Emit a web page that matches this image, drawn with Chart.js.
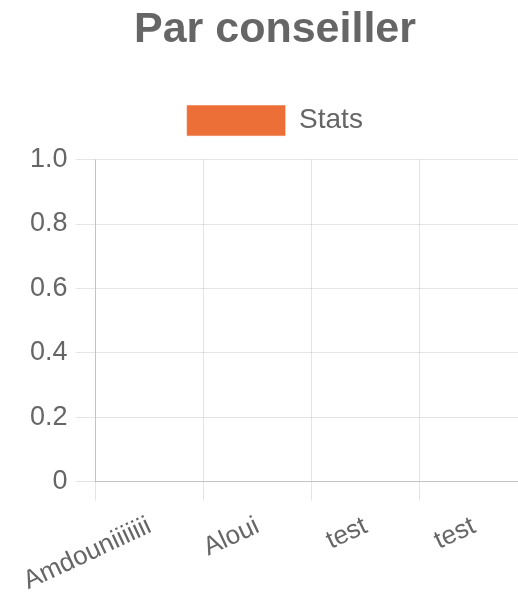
<!DOCTYPE html>
<html>
<head>
<meta charset="utf-8">
<script src="https://cdn.jsdelivr.net/npm/chart.js@4/dist/chart.umd.min.js"></script>
<style>
  html, body { margin: 0; padding: 0; overflow: hidden; background: #fff; }
  #wrap { width: 528px; height: 607px; }
</style>
</head>
<body>
<div id="wrap"><canvas id="chart"></canvas></div>
<script>
// data
const labels = ["Amdouniiiiiii", "Aloui", "test", "test"];
const stats = [0, 0, 0, 0];
const yTicks = [0, 0.2, 0.4, 0.6, 0.8, 1.0];

const grey = "#666";
const orange = "rgb(236, 111, 56)";

Chart.defaults.font.family = "'Liberation Sans', Arial, sans-serif";
Chart.defaults.color = grey;

// some room between legend and plot
const legendGap = {
  id: "legendGap",
  beforeInit(chart) {
    const fit = chart.legend.fit;
    chart.legend.fit = function () {
      fit.bind(chart.legend)();
      this.height += 14;
    };
  },
};

new Chart(document.getElementById("chart").getContext("2d"), {
  type: "bar",
  data: {
    labels: labels,
    datasets: [
      {
        label: "Stats",
        data: stats,
        backgroundColor: orange,
        borderColor: "rgba(236, 111, 56, 0.55)",
        borderWidth: 1,
      },
    ],
  },
  plugins: [legendGap],
  options: {
    responsive: true,
    maintainAspectRatio: false,
    animation: false,
    layout: { padding: { left: 22, right: 0, top: 0, bottom: 0 } },
    plugins: {
      title: {
        display: true,
        text: "Par conseiller",
        color: grey,
        font: { size: 43, weight: "bold" },
        padding: { top: 4, bottom: 40 },
      },
      legend: {
        labels: {
          boxWidth: 98,
          boxHeight: 30,
          padding: 10,
          font: { size: 28 },
          color: grey,
        },
      },
      tooltip: { enabled: false },
    },
    scales: {
      x: {
        grid: { color: "rgba(0,0,0,0.1)", tickLength: 19 },
        border: { color: "rgba(0,0,0,0.15)" },
        ticks: {
          font: { size: 26 },
          color: grey,
          minRotation: 25,
          maxRotation: 25,
          padding: 10,
        },
      },
      y: {
        min: yTicks[0],
        max: yTicks[yTicks.length - 1],
        grid: { color: "rgba(0,0,0,0.1)", tickLength: 20 },
        border: { color: "rgba(0,0,0,0.15)" },
        afterBuildTicks: (axis) => {
          axis.ticks = yTicks.map((v) => ({ value: v }));
        },
        ticks: {
          font: { size: 27 },
          color: grey,
          padding: 8,
          callback: (v) => (v === 0 ? "0" : Number(v).toFixed(1)),
        },
      },
    },
  },
});
</script>
</body>
</html>
